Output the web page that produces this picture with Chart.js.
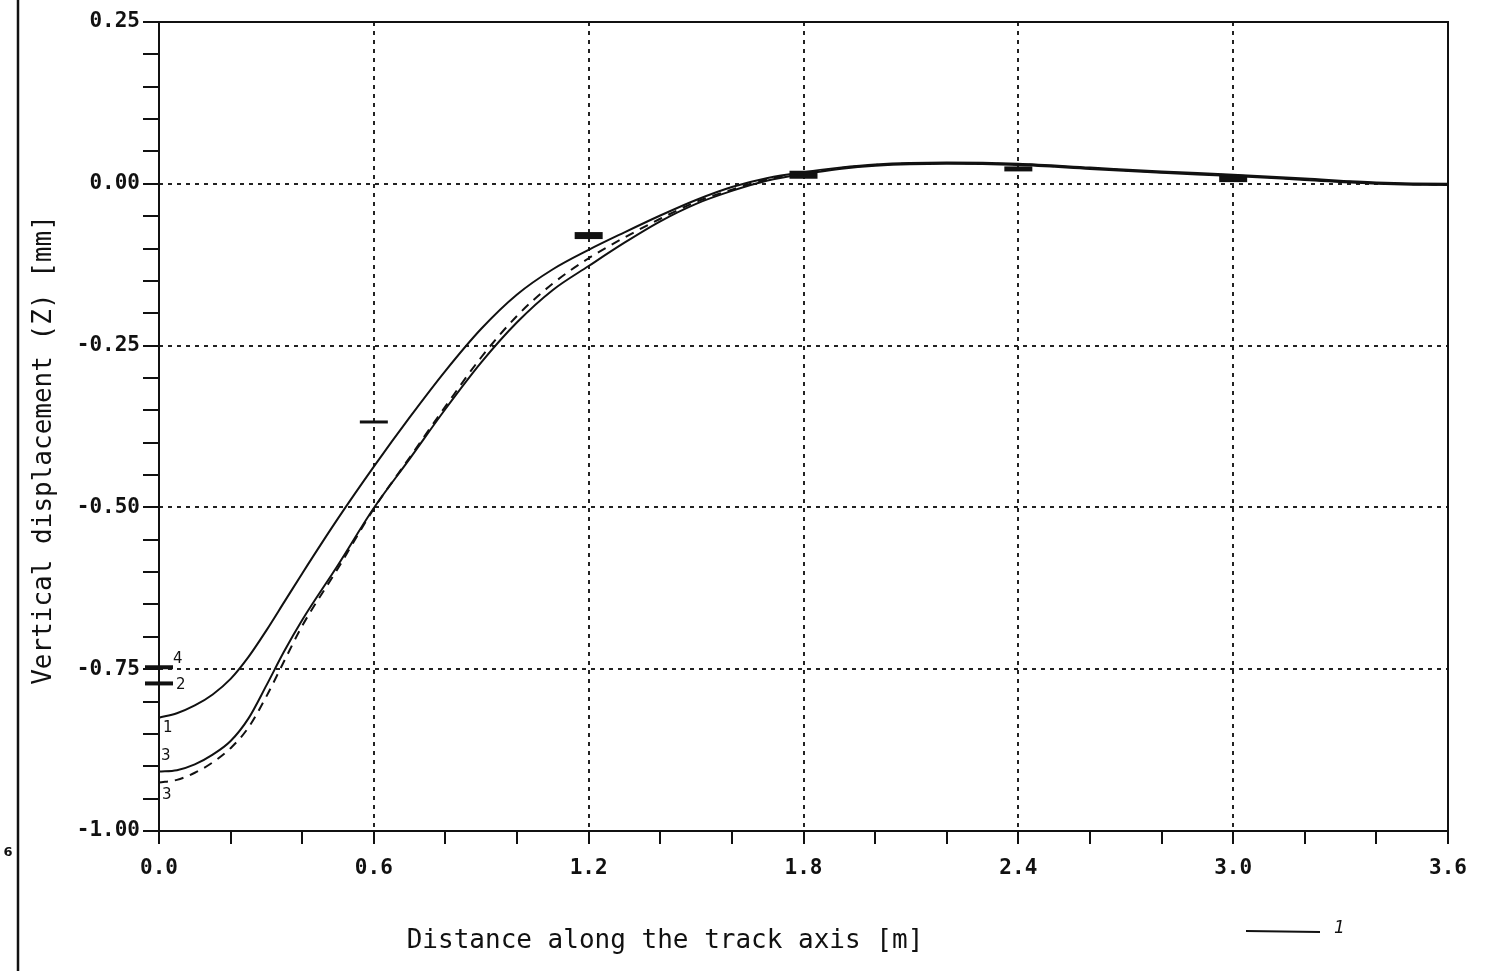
<!DOCTYPE html>
<html>
<head>
<meta charset="utf-8">
<title>Vertical displacement along the track axis</title>
<script src="https://cdn.jsdelivr.net/npm/chart.js@4.4.0/dist/chart.umd.min.js"></script>
<style>
  html, body { margin: 0; padding: 0; background: #fff; }
  canvas { display: block; }
</style>
</head>
<body>
<canvas id="chart" width="1505" height="971"></canvas>
<script>
// distance along the track axis [m]
const distance = [0, 0.05, 0.1, 0.15, 0.2, 0.25, 0.3, 0.35, 0.4, 0.5, 0.6, 0.7, 0.8, 0.9,
  1.0, 1.1, 1.2, 1.3, 1.4, 1.5, 1.6, 1.7, 1.8, 1.9, 2.0, 2.2, 2.4, 2.6, 2.8, 3.0, 3.2, 3.4, 3.6, 3.63];

// computed vertical displacement [mm]
const zCurve1 = [-0.825, -0.818, -0.806, -0.789, -0.765, -0.731, -0.690, -0.646, -0.602, -0.517,
  -0.437, -0.361, -0.289, -0.224, -0.171, -0.132, -0.102, -0.075, -0.049, -0.025, -0.005, 0.009,
  0.018, 0.025, 0.030, 0.033, 0.031, 0.025, 0.019, 0.014, 0.008, 0.002, 0.000, 0.000];
const zCurve3 = [-0.908, -0.906, -0.897, -0.882, -0.861, -0.826, -0.775, -0.722, -0.674, -0.589,
  -0.501, -0.425, -0.348, -0.276, -0.214, -0.164, -0.127, -0.091, -0.058, -0.031, -0.011, 0.005,
  0.015, 0.023, 0.028, 0.031, 0.029, 0.023, 0.017, 0.012, 0.006, 0.000, -0.002, -0.002];
const zCurve3Dashed = [-0.925, -0.921, -0.910, -0.894, -0.872, -0.840, -0.792, -0.737, -0.683, -0.594,
  -0.502, -0.423, -0.344, -0.268, -0.204, -0.154, -0.115, -0.083, -0.054, -0.028, -0.009, 0.007,
  0.016, 0.024, 0.029, 0.032, 0.030, 0.024, 0.018, 0.013, 0.007, 0.001, -0.001, -0.001];

// measured displacements
const measuredX = [0, 0, 0.6, 1.2, 1.8, 2.4, 3.0];
const measuredZ = [-0.747, -0.772, -0.368, -0.080, 0.014, 0.023, 0.008];
const measuredTags = ['4', '2', '', '', '', '', ''];

const curveTags = ['1', '3', '3'];
const xTitle = 'Distance along the track axis [m]';
const yTitle = 'Vertical displacement (Z) [mm]';

const ink = '#111';
const monoFont = '"DejaVu Sans Mono", "Liberation Mono", monospace';

const isMultiple = (v, step) => Math.abs(v / step - Math.round(v / step)) < 1e-6;
const pairs = zs => distance.map((d, i) => ({ x: d, y: zs[i] }));

// frame, titles, curve tags and the little key at the bottom
const decorations = {
  id: 'decorations',
  beforeDatasetsDraw(chart) {
    const { ctx, chartArea: a } = chart;
    ctx.save();
    ctx.strokeStyle = ink;
    ctx.lineWidth = 2;
    ctx.strokeRect(a.left, a.top, a.right - a.left, a.bottom - a.top);
    ctx.restore();
  },
  afterDraw(chart) {
    const { ctx, scales: { x, y } } = chart;
    ctx.save();
    ctx.fillStyle = ink;
    ctx.strokeStyle = ink;

    // page edge on the left
    ctx.lineWidth = 2.5;
    ctx.beginPath();
    ctx.moveTo(18, 0);
    ctx.lineTo(18, 971);
    ctx.stroke();
    ctx.font = 'bold 13px "DejaVu Sans"';
    ctx.textAlign = 'center';
    ctx.textBaseline = 'middle';
    ctx.fillText('6', 8, 853);

    // axis titles
    ctx.font = '26px ' + monoFont;
    ctx.fillText(xTitle, 665, 941);
    ctx.save();
    ctx.translate(44, 450);
    ctx.rotate(-Math.PI / 2);
    ctx.fillText(yTitle, 0, 0);
    ctx.restore();

    // tags beside the measured bars at the start
    ctx.font = '15px "DejaVu Sans"';
    ctx.textAlign = 'left';
    const barOffsets = [[14, -8], [17, 2]];
    measuredTags.forEach((t, i) => {
      if (!t) return;
      const [dx, dy] = barOffsets[i];
      ctx.fillText(t, x.getPixelForValue(measuredX[i]) + dx, y.getPixelForValue(measuredZ[i]) + dy);
    });

    // curve numbers at x = 0
    const curveOffsets = [[4, 10], [2, -15], [3, 13]];
    chart.data.datasets.slice(0, 3).forEach((ds, i) => {
      const p = ds.data[0];
      const [dx, dy] = curveOffsets[i];
      ctx.fillText(curveTags[i], x.getPixelForValue(p.x) + dx, y.getPixelForValue(p.y) + dy);
    });

    // key
    ctx.lineWidth = 2;
    ctx.beginPath();
    ctx.moveTo(1246, 931);
    ctx.lineTo(1320, 932);
    ctx.stroke();
    ctx.font = 'italic 17px "DejaVu Sans"';
    ctx.fillText('1', 1334, 929);
    ctx.restore();
  }
};

const tickFont = { family: monoFont, size: 21, weight: 'bold' };
const curveStyle = { borderColor: ink, borderWidth: 2, pointRadius: 0, cubicInterpolationMode: 'monotone', clip: false };

new Chart(document.getElementById('chart'), {
  type: 'line',
  data: {
    datasets: [
      { label: '1', data: pairs(zCurve1), ...curveStyle },
      { label: '3', data: pairs(zCurve3), ...curveStyle },
      { label: '3 (dashed)', data: pairs(zCurve3Dashed), ...curveStyle, borderDash: [9, 7] },
      {
        type: 'scatter',
        label: 'measured',
        data: measuredX.map((v, i) => ({ x: v, y: measuredZ[i] })),
        showLine: false,
        pointStyle: 'line',
        pointRadius: 14,
        pointBorderColor: ink,
        pointBorderWidth: [4, 4, 3, 7, 8, 5, 7],
        clip: false
      }
    ]
  },
  options: {
    responsive: false,
    animation: false,
    devicePixelRatio: 1,
    layout: { padding: { left: 0, top: 22, right: 57, bottom: 0 } },
    plugins: { legend: { display: false }, tooltip: { enabled: false } },
    scales: {
      x: {
        type: 'linear',
        min: 0,
        max: 3.6,
        afterFit: s => { s.height = 140; },
        ticks: {
          stepSize: 0.2, autoSkip: false, maxRotation: 0, padding: 12, color: ink, font: tickFont,
          callback: v => isMultiple(v, 0.6) ? v.toFixed(1) : ''
        },
        grid: {
          color: c => (c.tick && isMultiple(c.tick.value, 0.6) && c.tick.value > 0.01 && c.tick.value < 3.59) ? '#222' : 'rgba(0,0,0,0)',
          lineWidth: 2,
          tickColor: ink,
          tickLength: 13,
          tickWidth: 2
        },
        border: { display: false, dash: [4, 5] }
      },
      y: {
        min: -1,
        max: 0.25,
        afterFit: s => { s.width = 159; },
        ticks: {
          stepSize: 0.05, autoSkip: false, padding: 3, color: ink, font: tickFont,
          callback: v => isMultiple(v, 0.25) ? (Math.abs(v) < 1e-9 ? '0.00' : v.toFixed(2)) : ''
        },
        grid: {
          color: c => (c.tick && isMultiple(c.tick.value, 0.25) && c.tick.value > -0.99 && c.tick.value < 0.24) ? '#222' : 'rgba(0,0,0,0)',
          lineWidth: 2,
          tickColor: ink,
          tickLength: 16,
          tickWidth: 2
        },
        border: { display: false, dash: [4, 5] }
      }
    }
  },
  plugins: [decorations]
});
</script>
</body>
</html>
